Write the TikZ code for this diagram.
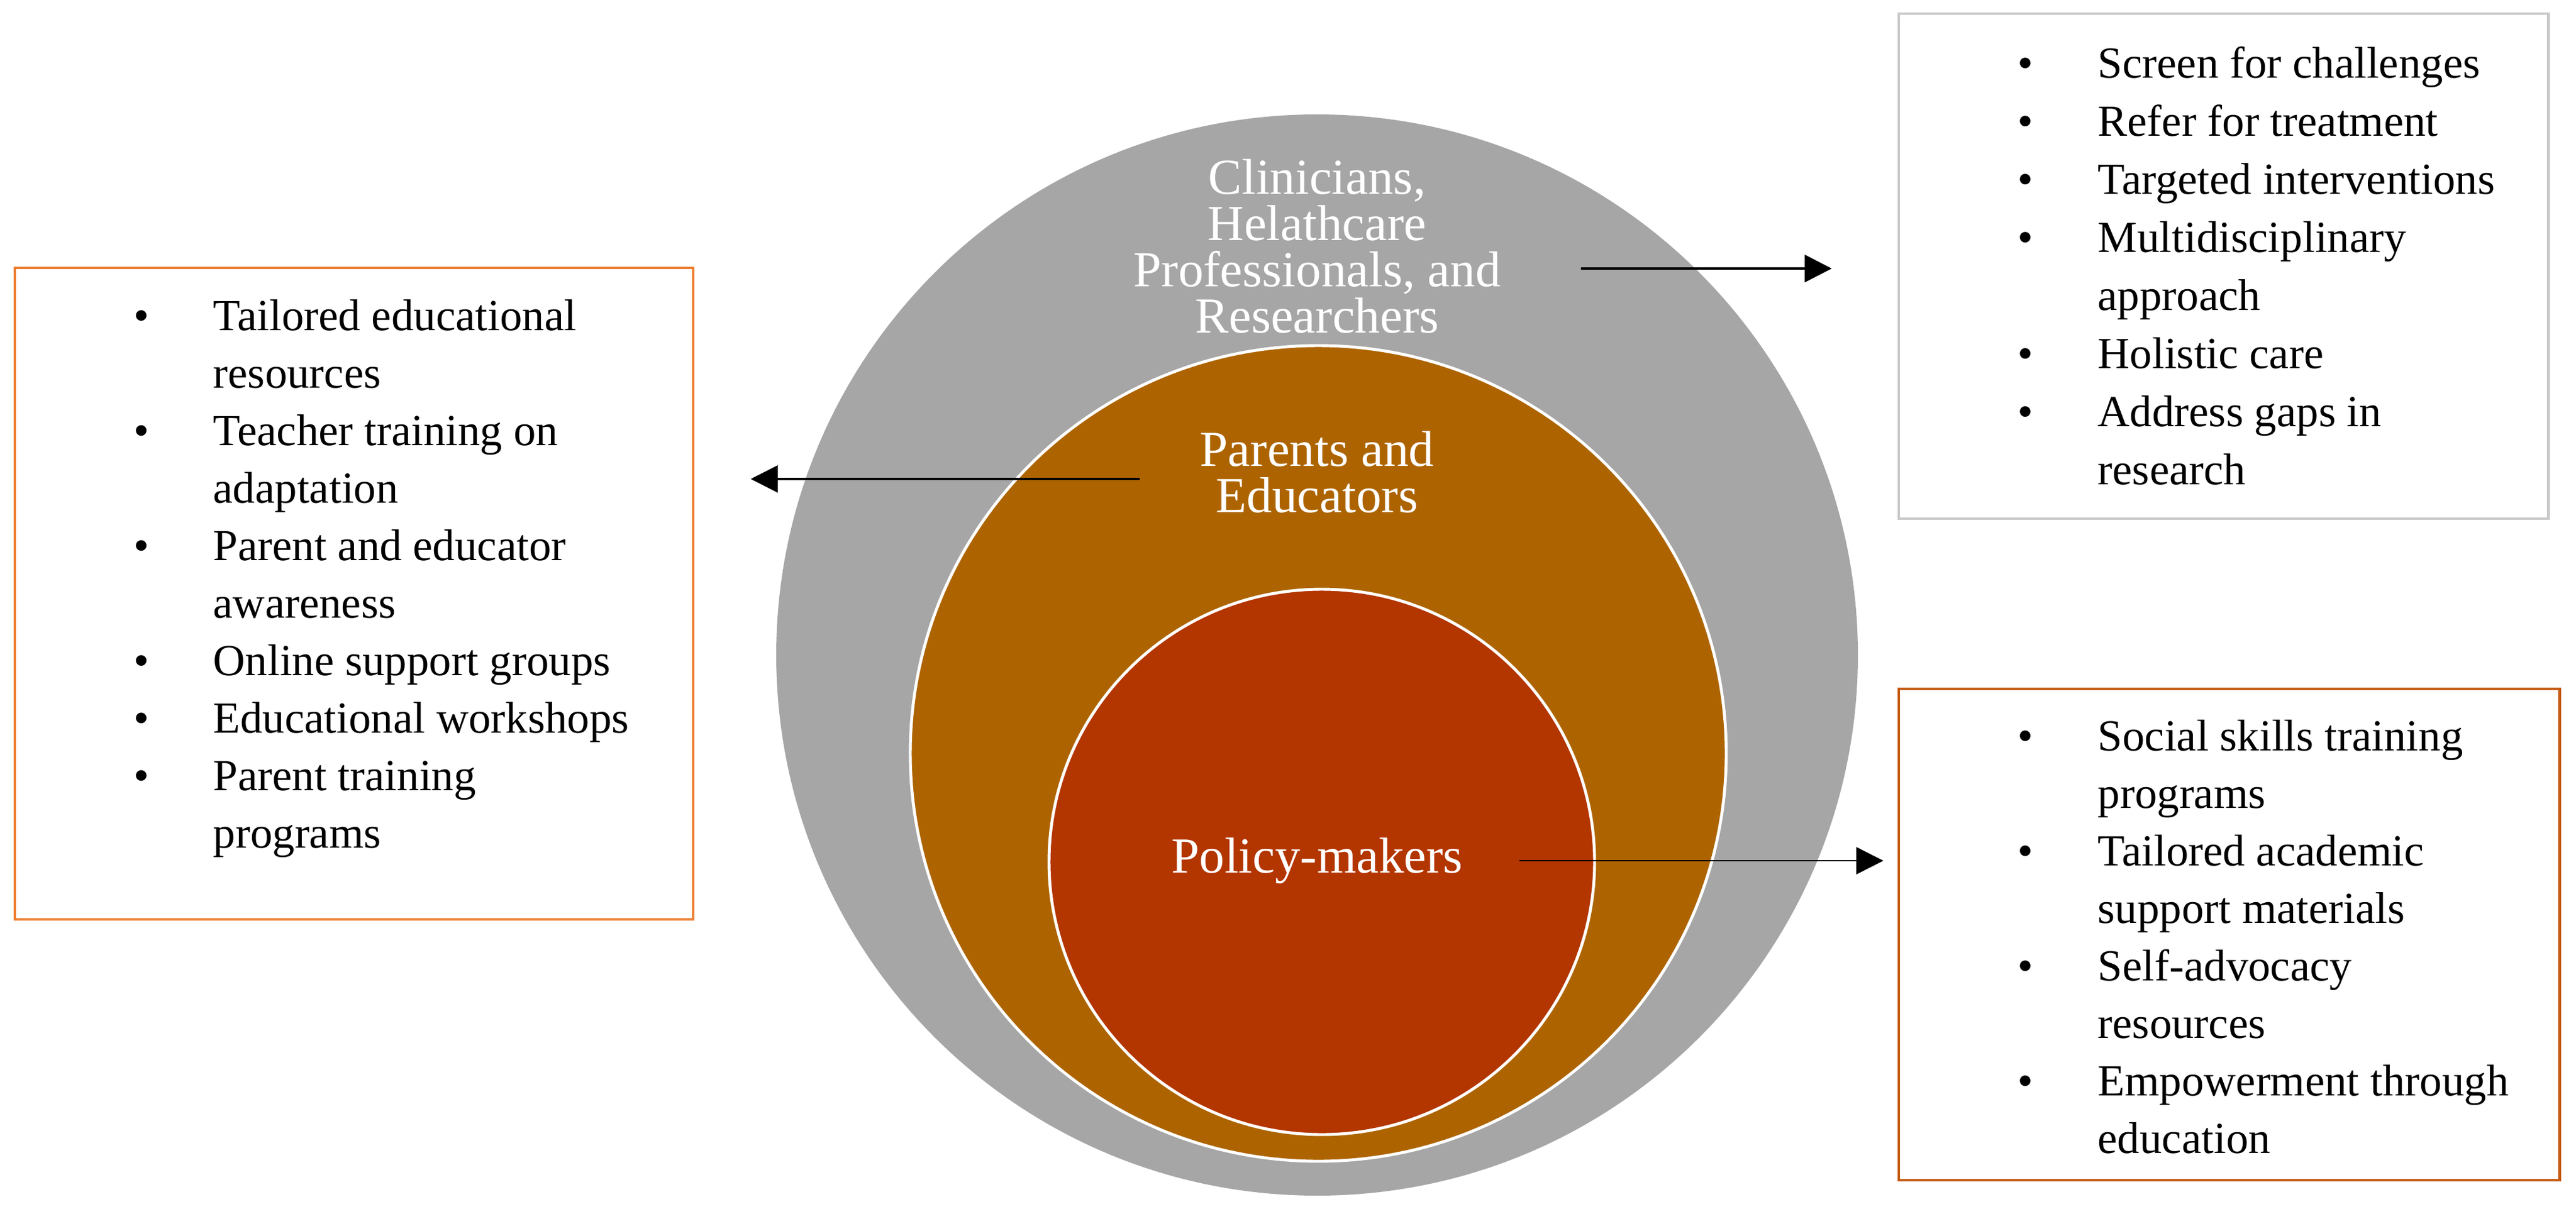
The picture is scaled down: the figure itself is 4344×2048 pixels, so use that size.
\documentclass[tikz,border=0pt]{standalone}
\usepackage{fontspec}
\setmainfont{Liberation Serif}
\usetikzlibrary{arrows.meta}
\definecolor{cgray}{HTML}{A6A6A6}
\definecolor{corange}{HTML}{AD6400}
\definecolor{cred}{HTML}{B33500}
\definecolor{boxorange}{HTML}{ED7D31}
\definecolor{boxdark}{HTML}{C55A11}
\definecolor{boxgray}{HTML}{C9C9C9}
\tikzset{
  ring/.style={draw=white,line width=1.4pt},
  itemtext/.style={font=\fontsize{21.3}{27.9}\selectfont,inner sep=0pt,anchor=base west},
  bul/.style={font=\fontsize{21.3}{27.9}\selectfont,inner sep=0pt,anchor=base},
  circtext/.style={font=\fontsize{24.2}{22.2}\selectfont,text=white,align=center,inner sep=0pt},
  listbox/.style={line width=1.4pt,fill=white},
  arr/.style={-{Triangle[length=13pt,width=13pt]}},
}
\begin{document}
\begin{tikzpicture}[x=0.01cm,y=-0.01cm]
\useasboundingbox (0,0) rectangle (4344,2048);
% circles
\fill[cgray] (2221,1105) circle[radius=912];
\draw[ring,fill=corange] (2223,1271) circle[radius=688];
\draw[ring,fill=cred] (2229,1454) circle[radius=460];
\node[circtext] (clin) at (2221,415) {Clinicians,\\Helathcare\\Professionals, and\\Researchers};
\node[circtext] (par) at (2221,796) {Parents and\\Educators};
\node[circtext] (pol) at (2221,1452) {Policy-makers};
% boxes
\draw[listbox,draw=boxorange] (25,452) rectangle (1169,1551);
\draw[listbox,draw=boxgray] (3202,23) rectangle (4297,875);
\draw[listbox,draw=boxdark] (3202,1162) rectangle (4316,1991);
% left list
\foreach \k/\b/\t [count=\i] in {0/1/Tailored educational,1/0/resources,2/1/Teacher training on,3/0/adaptation,4/1/Parent and educator,5/0/awareness,6/1/Online support groups,7/1/Educational workshops,8/1/Parent training,9/0/programs}{
  \node[itemtext] (L\i) at (359,557+97*\k) {\t};
  \ifnum\b=1 \node[bul] (Lb\i) at (239,557+97*\k) {\textbullet}; \fi
}
% right top list
\foreach \k/\b/\t [count=\i] in {0/1/Screen for challenges,1/1/Refer for treatment,2/1/Targeted interventions,3/1/Multidisciplinary,4/0/approach,5/1/Holistic care,6/1/Address gaps in,7/0/research}{
  \node[itemtext] (T\i) at (3537,131+98*\k) {\t};
  \ifnum\b=1 \node[bul] (Tb\i) at (3416,131+98*\k) {\textbullet}; \fi
}
% right bottom list
\foreach \k/\b/\t [count=\i] in {0/1/Social skills training,1/0/programs,2/1/Tailored academic,3/0/support materials,4/1/Self-advocacy,5/0/resources,6/1/Empowerment through,7/0/education}{
  \node[itemtext] (B\i) at (3537,1266+97*\k) {\t};
  \ifnum\b=1 \node[bul] (Bb\i) at (3416,1266+97*\k) {\textbullet}; \fi
}
% arrows
\coordinate (a1s) at (2666,453); \coordinate (a1e) at (3089,453);
\coordinate (a2s) at (1922,808); \coordinate (a2e) at (1266,808);
\coordinate (a3s) at (2562,1452); \coordinate (a3e) at (3176,1452);
\draw[arr,line width=1.3pt] (a1s) -- (a1e);
\draw[arr,line width=0.9pt] (a2s) -- (a2e);
\draw[arr,line width=0.7pt] (a3s) -- (a3e);
\end{tikzpicture}
\end{document}
